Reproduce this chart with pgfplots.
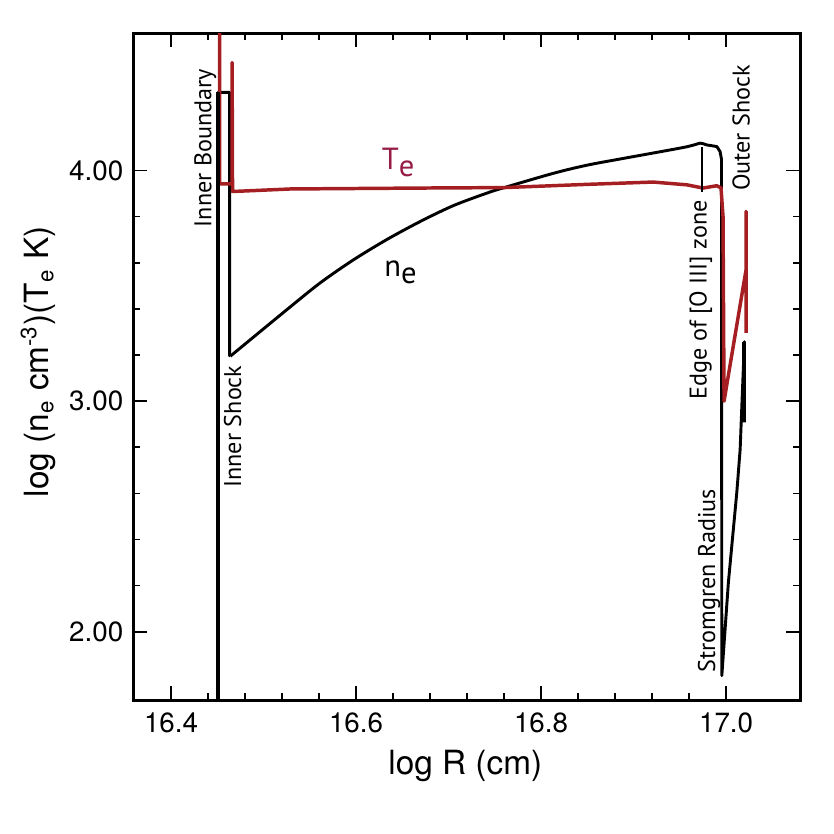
\documentclass[border=0pt]{standalone}
\usepackage{pgfplots}
\pgfplotsset{compat=1.18}
\usepackage{fontspec}
\setmainfont{TeX Gyre Heros}
\newfontfamily\annot{PT Sans}
\definecolor{tered}{RGB}{165,30,34}
\definecolor{telab}{RGB}{150,28,70}

\pgfplotstableread{
x y
16.4508 1.60
16.4508 4.339
16.4633 4.339
16.4633 3.198
16.4641 3.195
}\nestart

\pgfplotstableread{
x y
16.4641 3.195
16.5253 3.397
16.5613 3.513
16.5973 3.613
16.6334 3.701
16.6694 3.779
16.7053 3.848
16.7414 3.902
16.7594 3.925
16.8134 3.988
16.8495 4.023
16.8855 4.050
16.9214 4.076
16.9575 4.103
16.9718 4.119
}\nemid

\pgfplotstableread{
x y
16.9718 4.119
16.9755 4.116
16.9791 4.111
16.9900 4.104
16.9935 4.082
16.9950 4.050
16.9954 1.810
17.0025 2.215
17.0116 2.605
17.0152 2.791
17.0173 3.007
17.0198 3.258
17.0198 2.908
}\neend

\pgfplotstableread{
x y
16.4524 4.70
16.4524 3.942
16.4660 3.942
16.4660 4.468
16.4665 3.909
16.5290 3.920
16.6694 3.924
16.7600 3.926
16.8500 3.940
16.9210 3.950
16.9575 3.938
16.9750 3.924
16.9900 3.934
16.9945 3.925
16.9967 3.800
16.9978 3.000
17.0216 3.570
17.0216 3.823
17.0216 3.296
}\tedata

\begin{document}
\begin{tikzpicture}
\useasboundingbox (-47.9pt,-48.2pt) rectangle (252.2pt,251.9pt);
\begin{axis}[
  name=ax,
  scale only axis,
  width=240pt, height=240pt,
  xmin=16.359, xmax=17.080,
  ymin=1.704, ymax=4.596,
  xtick={16.4,16.6,16.8,17.0},
  ytick={2,3,4},
  minor x tick num=4,
  minor y tick num=4,
  tick align=inside,
  major tick length=5pt,
  minor tick length=2.6pt,
  every tick/.style={black, line width=0.6pt},
  axis line style={line width=1.1pt},
  x tick label style={/pgf/number format/fixed, /pgf/number format/fixed zerofill, /pgf/number format/precision=1, yshift=-1pt},
  y tick label style={/pgf/number format/fixed, /pgf/number format/fixed zerofill, /pgf/number format/precision=2},
  /pgf/number format/assume math mode=true,
  tick label style={font=\fontsize{10}{12}\selectfont},
  label style={font=\fontsize{12}{14}\selectfont},
  xlabel={log R (cm)},
  ylabel={log (n\textsubscript{e} cm\textsuperscript{-3})(T\textsubscript{e} K)},
  xlabel style={at={(axis description cs:0.498,-0.099)}, anchor=center},
  ylabel style={at={(axis description cs:-0.1424,0.507)}, anchor=center},
]
\addplot[black, line width=1.05pt, line join=round] table {\nestart};
\addplot[black, line width=1.05pt, smooth, tension=0.5] table {\nemid};
\addplot[black, line width=1.05pt, line join=round] table {\neend};
\addplot[tered, line width=1.25pt, line join=round] table {\tedata};
\addplot[black, line width=0.8pt] coordinates {(16.9737,4.10) (16.9737,3.909)};
\addplot[black, line width=1.7pt] coordinates {(16.4508,1.60) (16.4508,4.339)};
\addplot[black, line width=1.5pt] coordinates {(17.0198,3.258) (17.0198,2.908)};

\node[rotate=90, font=\annot\fontsize{8.7}{9}\selectfont] at (axis cs:16.437,4.098) {Inner Boundary};
\node[rotate=90, font=\annot\fontsize{8.7}{9}\selectfont] at (axis cs:16.4665,2.890) {Inner Shock};
\node[rotate=90, font=\annot\fontsize{8.7}{9}\selectfont] at (axis cs:16.9726,3.440) {Edge of [O III] zone};
\node[rotate=90, font=\annot\fontsize{8.7}{9}\selectfont] at (axis cs:17.0162,4.185) {Outer Shock};
\node[rotate=90, font=\annot\fontsize{8.7}{9}\selectfont] at (axis cs:16.9816,2.221) {Stromgren Radius};
\node[text=telab, font=\annot\fontsize{11}{13}\selectfont] at (axis cs:16.6456,4.033) {T\raisebox{-0.45ex}{e}};
\node[text=black, font=\annot\fontsize{11}{13}\selectfont] at (axis cs:16.648,3.56) {n\raisebox{-0.45ex}{e}};
\end{axis}
\end{tikzpicture}
\end{document}
